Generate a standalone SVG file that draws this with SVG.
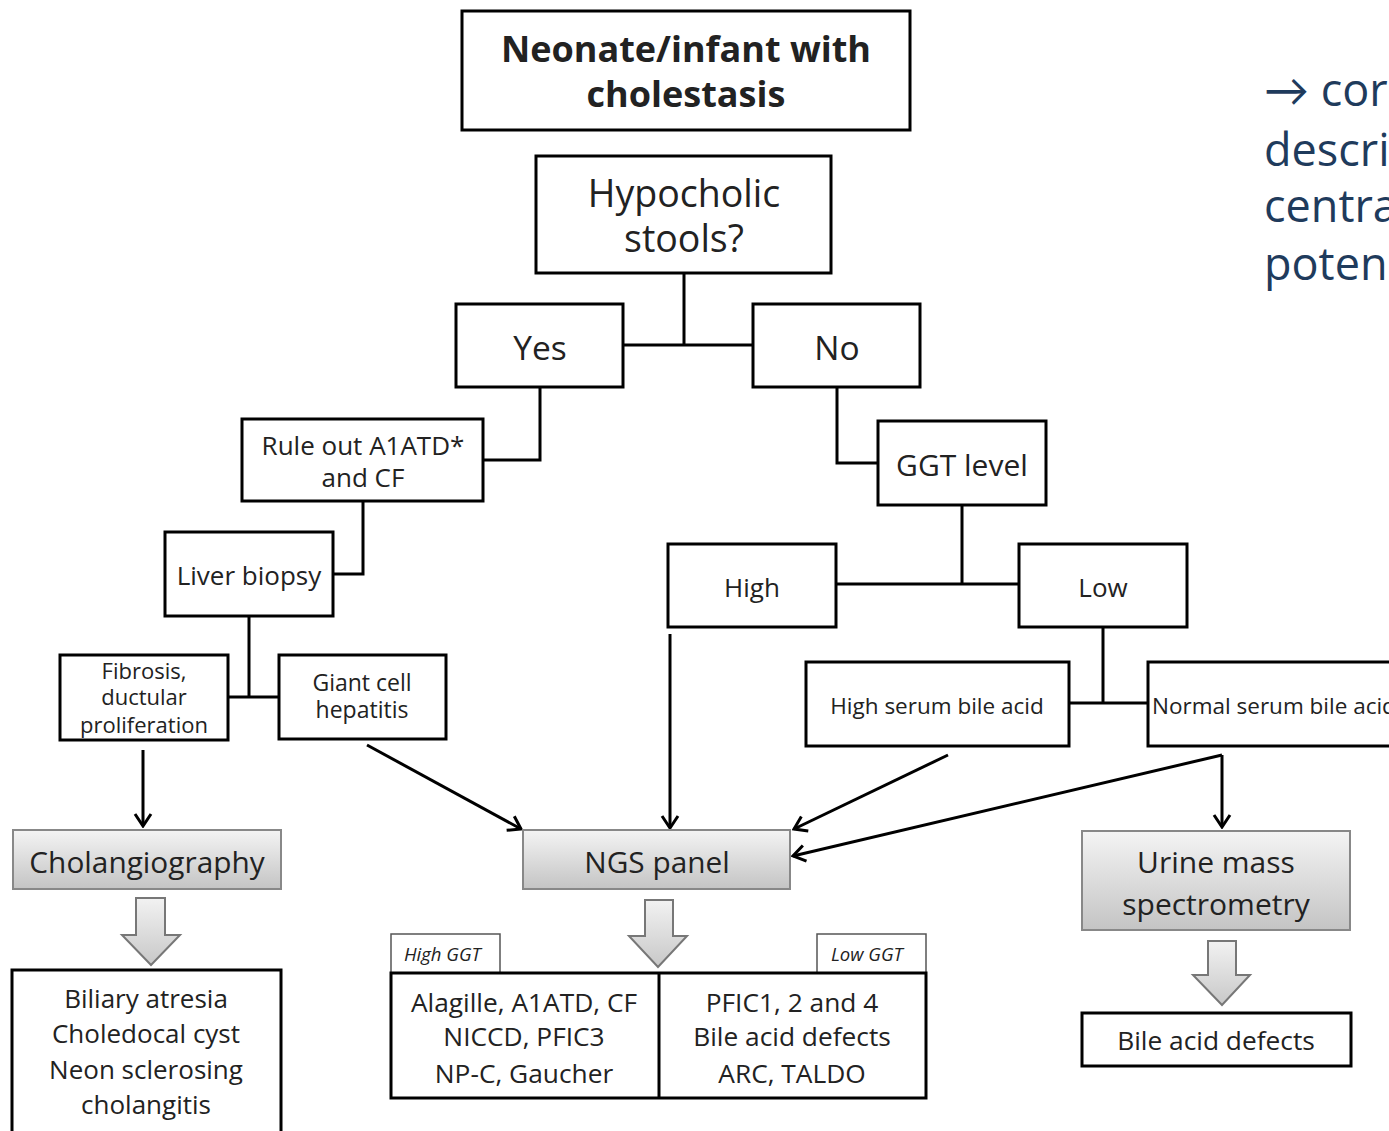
<svg xmlns="http://www.w3.org/2000/svg" width="1389" height="1131" viewBox="0 0 1389 1131">
<defs>
<linearGradient id="gbox" x1="0" y1="0" x2="0" y2="1">
<stop offset="0" stop-color="#f4f4f4"/><stop offset="1" stop-color="#c4c4c4"/>
</linearGradient>
<linearGradient id="garr" x1="0" y1="0" x2="0" y2="1">
<stop offset="0" stop-color="#f2f2f2"/><stop offset="1" stop-color="#c8c8c8"/>
</linearGradient>
<marker id="ah" viewBox="0 0 16 20" refX="14" refY="10" markerWidth="16" markerHeight="20" markerUnits="userSpaceOnUse" orient="auto">
<path d="M2,2 L14,10 L2,18" fill="none" stroke="#000" stroke-width="3"/>
</marker>
</defs>
<style>
.b{fill:#fff;stroke:#000;stroke-width:3}
.g{fill:url(#gbox);stroke:#888;stroke-width:2}
.ba{fill:url(#garr);stroke:#777;stroke-width:2}
.tab{fill:#fff;stroke:#555;stroke-width:1.5}
.t{font-family:"Open Sans",Lato,sans-serif;fill:#222;text-anchor:middle}
.c{fill:none;stroke:#000;stroke-width:3}
.a{fill:none;stroke:#000;stroke-width:3;marker-end:url(#ah)}
.side{font-family:"Open Sans",Lato,sans-serif;fill:#1f3b5c;font-size:45px}
</style>
<rect width="1389" height="1131" fill="#fff"/>

<g id="connectors">
<path class="c" d="M684,273 V345 M623,345 H753"/>
<path class="c" d="M540,387 V460 H483"/>
<path class="c" d="M837,387 V463 H878"/>
<path class="c" d="M363,501 V574 H333"/>
<path class="c" d="M249,616 V697 M228,697 H279"/>
<path class="c" d="M962,505 V584 M836,584 H1019"/>
<path class="c" d="M1103,627 V703 M1069,703 H1148"/>
<path class="a" d="M143,750 V826"/>
<path class="a" d="M367,745 L521,829"/>
<path class="a" d="M670,634 V828"/>
<path class="a" d="M948,755 L794,829"/>
<path class="a" d="M1222,755 L793,856"/>
<path class="a" d="M1222,755 V827"/>
</g>

<g id="n-top"><rect class="b" x="462" y="11" width="448" height="119"/>
<text class="t" x="686" y="62" font-size="36" font-weight="bold">Neonate/infant with</text>
<text class="t" x="686" y="107" font-size="36" font-weight="bold">cholestasis</text></g>

<g id="n-hypo"><rect class="b" x="536" y="156" width="295" height="117"/>
<text class="t" x="684" y="207" font-size="37.5">Hypocholic</text>
<text class="t" x="684" y="252" font-size="37.5">stools?</text></g>

<g id="n-yes"><rect class="b" x="456" y="304" width="167" height="83"/>
<text class="t" x="540" y="360" font-size="33.5">Yes</text></g>

<g id="n-no"><rect class="b" x="753" y="304" width="167" height="83"/>
<text class="t" x="837" y="360" font-size="33.5">No</text></g>

<g id="n-rule"><rect class="b" x="242" y="419" width="241" height="82"/>
<text class="t" x="363" y="455" font-size="26">Rule out A1ATD*</text>
<text class="t" x="363" y="487" font-size="26">and CF</text></g>

<g id="n-ggt"><rect class="b" x="878" y="421" width="168" height="84"/>
<text class="t" x="962" y="476" font-size="30">GGT level</text></g>

<g id="n-liver"><rect class="b" x="165" y="532" width="168" height="84"/>
<text class="t" x="249" y="585" font-size="26">Liver biopsy</text></g>

<g id="n-fib"><rect class="b" x="60" y="655" width="168" height="85"/>
<text class="t" x="144" y="679" font-size="22">Fibrosis,</text>
<text class="t" x="144" y="705" font-size="22">ductular</text>
<text class="t" x="144" y="733" font-size="22">proliferation</text></g>

<g id="n-giant"><rect class="b" x="279" y="655" width="167" height="84"/>
<text class="t" x="362" y="691" font-size="23">Giant cell</text>
<text class="t" x="362" y="718" font-size="23">hepatitis</text></g>

<g id="n-high"><rect class="b" x="668" y="544" width="168" height="83"/>
<text class="t" x="752" y="597" font-size="26">High</text></g>

<g id="n-low"><rect class="b" x="1019" y="544" width="168" height="83"/>
<text class="t" x="1103" y="597" font-size="26">Low</text></g>

<g id="n-hsba"><rect class="b" x="806" y="662" width="263" height="84"/>
<text class="t" x="937" y="714" font-size="22.5">High serum bile acid</text></g>

<g id="n-nsba"><rect class="b" x="1148" y="662" width="260" height="84"/>
<text class="t" x="1152" y="714" font-size="22.5" style="text-anchor:start">Normal serum bile acid</text></g>

<g id="n-chol"><rect class="g" x="13" y="830" width="268" height="59"/>
<text class="t" x="147" y="873" font-size="29.8">Cholangiography</text></g>

<g id="n-ngs"><rect class="g" x="523" y="830" width="267" height="59"/>
<text class="t" x="657" y="873" font-size="29.8">NGS panel</text></g>

<g id="n-urine"><rect class="g" x="1082" y="831" width="268" height="99"/>
<text class="t" x="1216" y="873" font-size="30">Urine mass</text>
<text class="t" x="1216" y="915" font-size="30">spectrometry</text></g>

<g id="blockarrows">
<polygon class="ba" points="136,898 165,898 165,935 180,935 151,965 122,935 136,935"/>
<polygon class="ba" points="645,900 673,900 673,936 687,936 658,967 629,936 645,936"/>
<polygon class="ba" points="1208,941 1236,941 1236,975 1250,975 1222,1005 1193,975 1208,975"/>
</g>

<g id="n-biliary"><rect class="b" x="12" y="970" width="269" height="170"/>
<text class="t" x="146" y="1008" font-size="26">Biliary atresia</text>
<text class="t" x="146" y="1043" font-size="26">Choledocal cyst</text>
<text class="t" x="146" y="1079" font-size="26">Neon sclerosing</text>
<text class="t" x="146" y="1114" font-size="26">cholangitis</text></g>

<g id="n-ngsres">
<rect class="tab" x="391" y="934" width="109" height="39"/>
<text class="t" x="404" y="961" font-size="18.5" font-style="italic" style="text-anchor:start">High GGT</text>
<rect class="tab" x="817" y="934" width="109" height="39"/>
<text class="t" x="831" y="961" font-size="18.5" font-style="italic" style="text-anchor:start">Low GGT</text>
<rect class="b" x="391" y="973" width="535" height="125"/>
<line x1="659" y1="973" x2="659" y2="1098" stroke="#000" stroke-width="3"/>
<text class="t" x="524" y="1012" font-size="26.3">Alagille, A1ATD, CF</text>
<text class="t" x="524" y="1046" font-size="26.3">NICCD, PFIC3</text>
<text class="t" x="524" y="1083" font-size="26.3">NP-C, Gaucher</text>
<text class="t" x="792" y="1012" font-size="26.3">PFIC1, 2 and 4</text>
<text class="t" x="792" y="1046" font-size="26.3">Bile acid defects</text>
<text class="t" x="792" y="1083" font-size="26.3">ARC, TALDO</text>
</g>

<g id="n-bad"><rect class="b" x="1082" y="1013" width="269" height="53"/>
<text class="t" x="1216" y="1050" font-size="26.3">Bile acid defects</text></g>

<g id="sidetext">
<text class="side" x="1264" y="106">→ cor</text>
<text class="side" x="1264" y="166">descri</text>
<text class="side" x="1264" y="222">centra</text>
<text class="side" x="1264" y="280">poten</text>
</g>
</svg>
